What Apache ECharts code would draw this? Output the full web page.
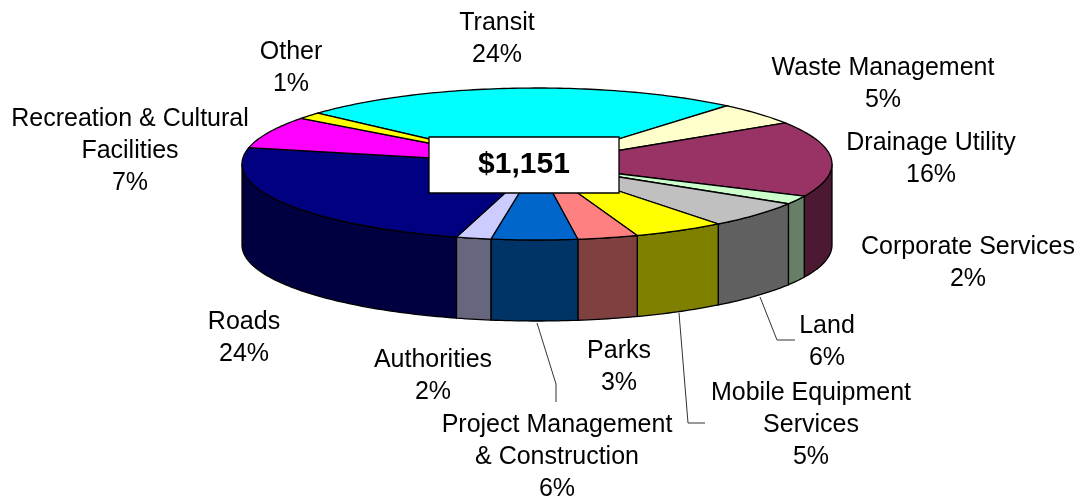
<!DOCTYPE html>
<html>
<head>
<meta charset="utf-8">
<title>$1,151</title>
<script src="https://cdn.jsdelivr.net/npm/echarts@6/dist/echarts.min.js"></script>
<style>
    html, body { margin: 0; padding: 0; background: #fff; }
    #pie-chart { width: 1080px; height: 499px; }
</style>
</head>
<body>
<div id="pie-chart"></div>
<script>
// Slice names, clockwise from Transit
const categories = [
    'Transit', 'Waste Management', 'Drainage Utility', 'Corporate Services',
    'Land', 'Mobile Equipment\nServices', 'Parks', 'Project Management\n& Construction',
    'Authorities', 'Roads', 'Recreation & Cultural\nFacilities', 'Other'
];
// Printed percentages
const labelPercents = [24, 5, 16, 2, 6, 5, 3, 6, 2, 24, 7, 1];
// Slice sizes as read from the drawn wedges (they differ a little from the rounded labels)
const sliceValues = [24.4, 4.8, 16, 1.8, 5.7, 5, 3.3, 4.7, 1.9, 24, 6.8, 1.4];
const sliceColors = [
    '#00ffff', '#ffffcc', '#993366', '#ccffcc', '#c0c0c0', '#ffff00',
    '#ff8080', '#0066cc', '#ccccff', '#000080', '#ff00ff', '#ffff00'
];
const totalLabel = '$1,151';

// Layout of the flattened pie
const pie = { cx: 537, cy: 164, rx: 295, ry: 76, depth: 81, startAngle: 138 };
// Label centres, same order as categories
const labelCenters = [
    [497, 39], [883, 84], [931, 159], [968, 263], [827, 342], [811, 425],
    [619, 367], [557, 457], [433, 376], [244, 338], [130, 151], [291, 68]
];
const leaderLines = [
    [[760, 297], [777, 340], [795, 340]],
    [[679, 313], [688, 423], [705, 423]],
    [[537, 323], [556, 384], [556, 402]]
];

document.addEventListener('DOMContentLoaded', () => {
    const total = sliceValues.reduce((sum, v) => sum + v, 0);

    // Start and end angle of each slice, degrees, counter-clockwise from 3 o'clock
    let running = pie.startAngle;
    const sliceAngles = sliceValues.map(v => {
        const from = running;
        running -= v / total * 360;
        return [from, running];
    });

    const pointAt = (deg, drop) => {
        const rad = deg * Math.PI / 180;
        return [pie.cx + pie.rx * Math.cos(rad), pie.cy - pie.ry * Math.sin(rad) + drop];
    };

    const arcPoints = (from, to, drop) => {
        const steps = Math.max(2, Math.ceil(Math.abs(from - to)));
        const points = [];
        for (let i = 0; i <= steps; i++) {
            points.push(pointAt(from + (to - from) * i / steps, drop));
        }
        return points;
    };

    // Wall colour is the slice colour at half brightness
    const halfColor = (hex) => {
        const channels = [1, 3, 5].map(i => parseInt(hex.slice(i, i + 2), 16) >> 1);
        return `rgb(${channels.join(',')})`;
    };

    // Top face of a slice
    const renderTop = (params) => {
        const [from, to] = sliceAngles[params.dataIndex];
        return {
            type: 'polygon',
            shape: { points: [[pie.cx, pie.cy], ...arcPoints(from, to, 0)] },
            style: { fill: sliceColors[params.dataIndex], stroke: '#000', lineWidth: 1.3 }
        };
    };

    // Outer wall, only the part on the front half of the pie
    const renderSide = (params) => {
        const [from, to] = sliceAngles[params.dataIndex];
        const a = Math.min(from, 0);
        const b = Math.max(to, -180);
        if (a <= b) return null;
        return {
            type: 'polygon',
            shape: { points: [...arcPoints(a, b, 0), ...arcPoints(b, a, pie.depth)] },
            style: { fill: halfColor(sliceColors[params.dataIndex]), stroke: '#000', lineWidth: 1.3 }
        };
    };

    const renderLabel = (params) => ({
        type: 'text',
        style: {
            text: categories[params.dataIndex] + '\n' + labelPercents[params.dataIndex] + '%',
            x: labelCenters[params.dataIndex][0],
            y: labelCenters[params.dataIndex][1],
            align: 'center',
            verticalAlign: 'middle',
            font: '25px "Liberation Sans", Arial, sans-serif',
            lineHeight: 32,
            fill: '#000'
        }
    });

    const customSeries = (renderItem, z) => ({
        type: 'custom',
        coordinateSystem: 'none',
        data: sliceValues,
        renderItem,
        z,
        silent: true,
        animation: false
    });

    const chart = echarts.init(document.getElementById('pie-chart'));
    chart.setOption({
        backgroundColor: '#fff',
        animation: false,
        series: [
            customSeries(renderSide, 2),
            customSeries(renderTop, 3),
            customSeries(renderLabel, 4)
        ],
        graphic: [
            ...leaderLines.map(points => ({
                type: 'polyline',
                z: 5,
                shape: { points },
                style: { fill: null, stroke: '#333', lineWidth: 1 }
            })),
            {
                type: 'rect',
                z: 6,
                shape: { x: 429, y: 137, width: 190, height: 56 },
                style: { fill: '#fff', stroke: '#000', lineWidth: 1.3 }
            },
            {
                type: 'text',
                z: 7,
                style: {
                    text: totalLabel,
                    x: 524,
                    y: 165,
                    align: 'center',
                    verticalAlign: 'middle',
                    font: 'bold 30px "Liberation Sans", Arial, sans-serif',
                    fill: '#000'
                }
            }
        ]
    });
});
</script>
</body>
</html>
